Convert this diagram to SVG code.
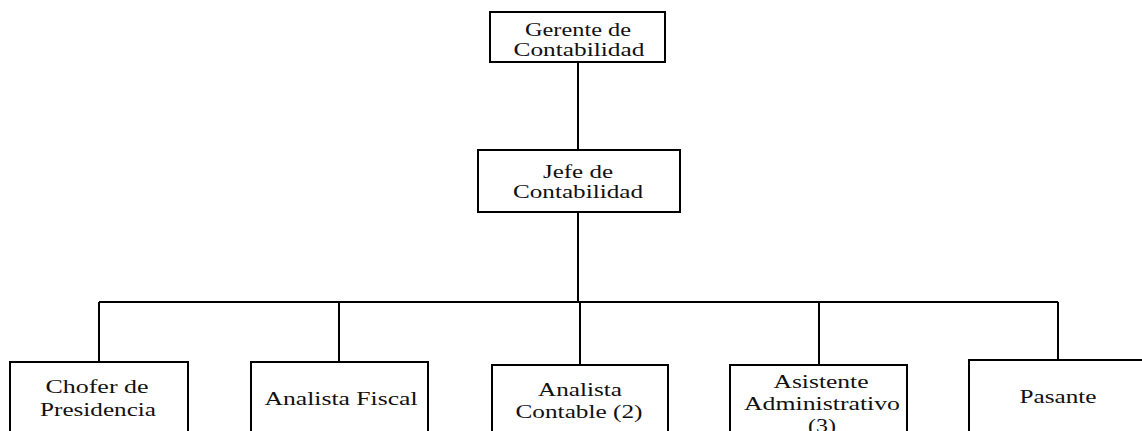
<svg xmlns="http://www.w3.org/2000/svg" width="1142" height="431" viewBox="0 0 1142 431">
<style>
.box{fill:#fff;stroke:#000;stroke-width:2}
.ln{stroke:#000;stroke-width:2;fill:none}
text{font-family:'Liberation Serif','Times New Roman',serif;fill:#111;text-anchor:middle}
.t{font-size:18px}
.b{font-size:19px}
</style>
<rect width="1142" height="431" fill="#fff"/>
<g id="connectors">
<path class="ln" d="M578,62V150M578,212V302M99,302H1058M99,302V362M339,302V362M580,302V365M819,302V365M1058,302V360"/>
</g>
<g id="gerente">
<rect class="box" x="490" y="12" width="175" height="50"/>
<text class="t" x="578" y="36" textLength="106" lengthAdjust="spacingAndGlyphs">Gerente de</text>
<text class="t" x="579" y="56" textLength="131" lengthAdjust="spacingAndGlyphs">Contabilidad</text>
</g>
<g id="jefe">
<rect class="box" x="478" y="150" width="202" height="62"/>
<text class="t" x="578" y="178" textLength="70" lengthAdjust="spacingAndGlyphs">Jefe de</text>
<text class="t" x="578" y="198" textLength="130" lengthAdjust="spacingAndGlyphs">Contabilidad</text>
</g>
<g id="chofer">
<rect class="box" x="10" y="362" width="178" height="80"/>
<text class="b" x="97" y="393" textLength="103" lengthAdjust="spacingAndGlyphs">Chofer de</text>
<text class="b" x="98" y="416" textLength="116" lengthAdjust="spacingAndGlyphs">Presidencia</text>
</g>
<g id="fiscal">
<rect class="box" x="251" y="362" width="177" height="80"/>
<text class="b" x="341" y="405" textLength="153" lengthAdjust="spacingAndGlyphs">Analista Fiscal</text>
</g>
<g id="contable">
<rect class="box" x="492" y="365" width="176" height="80"/>
<text class="b" x="580" y="396" textLength="84" lengthAdjust="spacingAndGlyphs">Analista</text>
<text class="b" x="579" y="418" textLength="127" lengthAdjust="spacingAndGlyphs">Contable (2)</text>
</g>
<g id="asistente">
<rect class="box" x="730" y="365" width="177" height="80"/>
<text class="b" x="821" y="388" textLength="95" lengthAdjust="spacingAndGlyphs">Asistente</text>
<text class="b" x="822" y="410" textLength="156" lengthAdjust="spacingAndGlyphs">Administrativo</text>
<text class="b" x="822" y="432" textLength="28" lengthAdjust="spacingAndGlyphs">(3)</text>
</g>
<g id="pasante">
<rect class="box" x="969" y="360" width="180" height="80"/>
<text class="b" x="1058" y="403" textLength="77" lengthAdjust="spacingAndGlyphs">Pasante</text>
</g>
</svg>
